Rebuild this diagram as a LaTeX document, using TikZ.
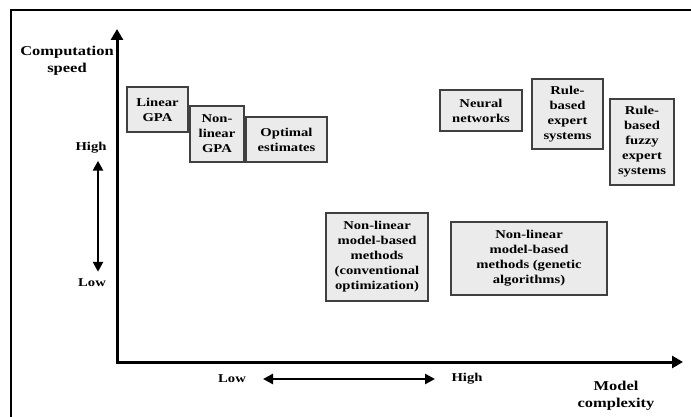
\documentclass[tikz,border=0pt]{standalone}
\usepackage{fontspec}
\setmainfont{Liberation Serif}[FakeStretch=1.22]
\usetikzlibrary{arrows.meta}
\begin{document}
\begin{tikzpicture}[x=1pt,y=-1pt,
  box/.style={draw=black!75,line width=1.4pt,fill=black!8,align=center,inner sep=0pt,
    font=\fontsize{12}{15}\selectfont\bfseries},
  lbl/.style={font=\fontsize{12}{15}\selectfont\bfseries,align=center,inner sep=0pt},
  axlbl/.style={font=\fontsize{13.5}{17.5}\selectfont\bfseries,align=center,inner sep=0pt},
  axis/.style={line width=3pt,-{Triangle[length=11pt,width=12pt]}},
  dbl/.style={line width=2.5pt,{Triangle[length=10pt,width=10pt]}-{Triangle[length=10pt,width=10pt]}}]
\useasboundingbox (0,0) rectangle (691,417);
\draw[line width=2pt] (11,417) -- (11,10) -- (691,10);
% axes
\coordinate (o) at (117,362);
\coordinate (ytip) at (117,29);
\coordinate (xtip) at (683,362);
\draw[axis] (o) -- (ytip);
\draw[axis] ([xshift=-1.5pt]o) -- (xtip);
\node[axlbl] (cs) at (67,61) {Computation\\speed};
\node[axlbl] (mc) at (616,396) {Model\\complexity};
% speed double arrow
\node[lbl] (hi) at (91,148) {High};
\node[lbl] (lo) at (92,283) {Low};
\draw[dbl] ([yshift=-7pt]hi.south -| 98,0) -- ([yshift=7pt]lo.north -| 98,0);
% complexity double arrow
\node[lbl] (lo2) at (232,379) {Low};
\node[lbl] (hi2) at (467,379) {High};
\draw[dbl] (263,379) -- (435,379);
% boxes
\node[box,minimum width=61,minimum height=45] (lgpa) at (157.5,109.5) {Linear\\GPA};
\node[box,minimum width=54,minimum height=56] (nlgpa) at (217,134) {Non-\\linear\\GPA};
\node[box,minimum width=81,minimum height=45] (opt) at (286.5,139.5) {Optimal\\estimates};
\node[box,minimum width=82,minimum height=41] (nn) at (481,110.5) {Neural\\networks};
\node[box,minimum width=71,minimum height=70] (rbe) at (567.5,114) {Rule-\\based\\expert\\systems};
\node[box,minimum width=64,minimum height=86] (rbf) at (642,142) {Rule-\\based\\fuzzy\\expert\\systems};
\node[box,minimum width=102,minimum height=88] (nlc) at (377,257) {Non-linear\\model-based\\methods\\(conventional\\optimization)};
\node[box,minimum width=156,minimum height=73] (nlg) at (529,258.5) {Non-linear\\model-based\\methods (genetic\\algorithms)};
\end{tikzpicture}
\end{document}
